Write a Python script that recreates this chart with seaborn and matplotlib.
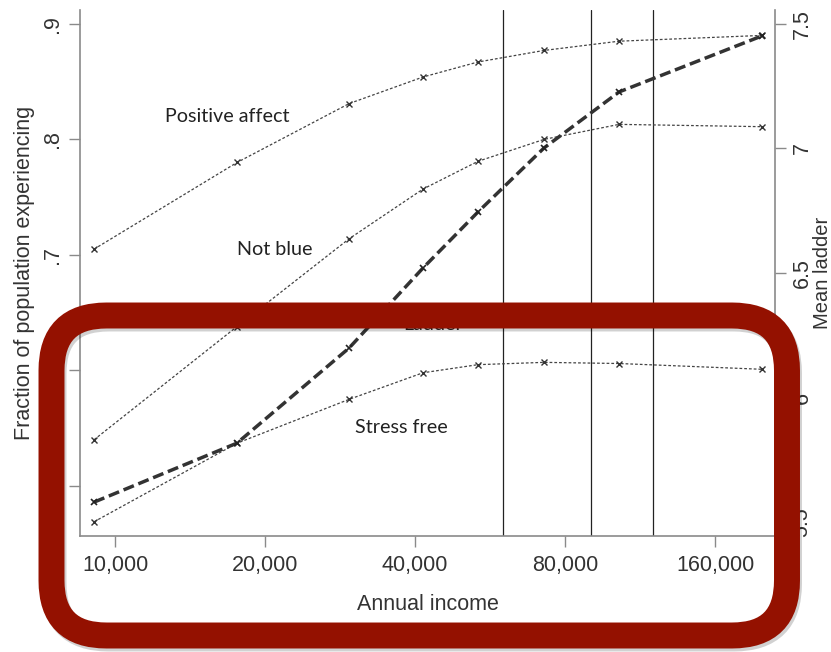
import matplotlib
matplotlib.use("Agg")
import matplotlib.pyplot as plt
import matplotlib.transforms as mtransforms
from matplotlib.patches import FancyBboxPatch
from matplotlib.ticker import FixedLocator, NullLocator, FuncFormatter
import seaborn as sns
import pandas as pd

# data
income = [9075, 17570, 29500, 41500, 53500, 72600, 102700, 198800]
positive_affect = [0.705, 0.780, 0.831, 0.854, 0.867, 0.877, 0.885, 0.890]
not_blue = [0.540, 0.638, 0.714, 0.757, 0.781, 0.800, 0.813, 0.811]
stress_free = [0.469, 0.537, 0.575, 0.598, 0.605, 0.607, 0.606, 0.601]
ladder = [5.58, 5.817, 6.199, 6.52, 6.745, 7.002, 7.227, 7.452]
cutoffs = [60000, 90000, 120000]
x_ticks = [10000, 20000, 40000, 80000, 160000]
left_ticks = [0.5, 0.6, 0.7, 0.8, 0.9]
left_labels = [".5", ".6", ".7", ".8", ".9"]
right_ticks = [5.5, 6, 6.5, 7, 7.5]
right_labels = ["5.5", "6", "6.5", "7", "7.5"]

df = pd.DataFrame({"income": income, "Positive affect": positive_affect,
                   "Not blue": not_blue, "Stress free": stress_free, "Ladder": ladder})

sns.set_style("white")
plt.rcParams["font.family"] = ["Liberation Sans", "DejaVu Sans"]

fig = plt.figure(figsize=(8.31, 6.52), dpi=100)
ax = fig.add_axes([80 / 831, 116 / 652, 695 / 831, 526 / 652])
ax2 = ax.twinx()

# seaborn paints marker edges white by default, so set them explicitly
thin = dict(color="#444444", linewidth=0.9, marker="x", markersize=5,
            markeredgewidth=1.0, markeredgecolor="#333333",
            linestyle=(0, (2.2, 1.6)))
for col in ["Positive affect", "Not blue", "Stress free"]:
    sns.lineplot(data=df, x="income", y=col, ax=ax, **thin)
sns.lineplot(data=df, x="income", y="Ladder", ax=ax2, color="#333333",
             linewidth=2.5, marker="x", markersize=5, markeredgewidth=1.2,
             markeredgecolor="#222222", linestyle=(0, (3.2, 1.4)))

for c in cutoffs:
    ax.axvline(c, color="#222222", linewidth=0.9, zorder=0)

ax.set_xscale("log")
ax.set_xlim(8505, 211100)
ax.set_ylim(0.4567, 0.912)
ax2.set_ylim(5.444, 7.556)

ax.xaxis.set_major_locator(FixedLocator(x_ticks))
ax.xaxis.set_minor_locator(NullLocator())
ax.xaxis.set_major_formatter(FuncFormatter(lambda v, p: f"{int(v):,}"))
ax.set_yticks(left_ticks)
ax.set_yticklabels(left_labels, rotation=90, va="center")
ax2.set_yticks(right_ticks)
ax2.set_yticklabels(right_labels, rotation=90, va="center")

spine_c = "#8a8a8a"
for a in (ax, ax2):
    for s in a.spines.values():
        s.set_color(spine_c)
        s.set_linewidth(1.2)
    a.spines["top"].set_visible(False)
    a.tick_params(length=8, width=1.0, color=spine_c, labelsize=15.5,
                  labelcolor="#333333", direction="out")
ax.spines["right"].set_visible(False)
ax2.spines["left"].set_visible(False)
ax2.spines["bottom"].set_visible(False)
ax.tick_params(axis="x", bottom=True, pad=6)
ax.tick_params(axis="y", left=True, pad=4)
ax2.tick_params(axis="y", right=True, pad=4)

ax.set_xlabel("Annual income", fontsize=15.5, color="#333333", labelpad=13)
ax.set_ylabel("Fraction of population experiencing", fontsize=15.5,
              color="#333333", labelpad=5)
ax2.set_ylabel("Mean ladder", fontsize=14.5, color="#333333", labelpad=0)

lab = dict(fontsize=14.2, family=["Lato", "DejaVu Sans"], color="#222222",
           ha="center", va="center")
ax.text(16780, 0.8195, "Positive affect", **lab)
ax.text(20950, 0.7043, "Not blue", **lab)
ax.text(37500, 0.551, "Stress free", **lab)
ax.text(43460, 0.640, "Ladder", **lab)

# red rounded frame drawn over the lower half (pixel coordinates)
ident = mtransforms.IdentityTransform()
shadow = FancyBboxPatch((53.5, 13.5), 735.5, 320, boxstyle="round,pad=0,rounding_size=55",
                        facecolor="none", edgecolor="#000000", alpha=0.18,
                        linewidth=18.7, transform=ident, zorder=9)
frame = FancyBboxPatch((51.5, 16.5), 735.5, 320, boxstyle="round,pad=0,rounding_size=55",
                       facecolor="none", edgecolor="#941100", linewidth=18.7,
                       transform=ident, zorder=10)
fig.add_artist(shadow)
fig.add_artist(frame)

fig.savefig("out.png", dpi=100)
